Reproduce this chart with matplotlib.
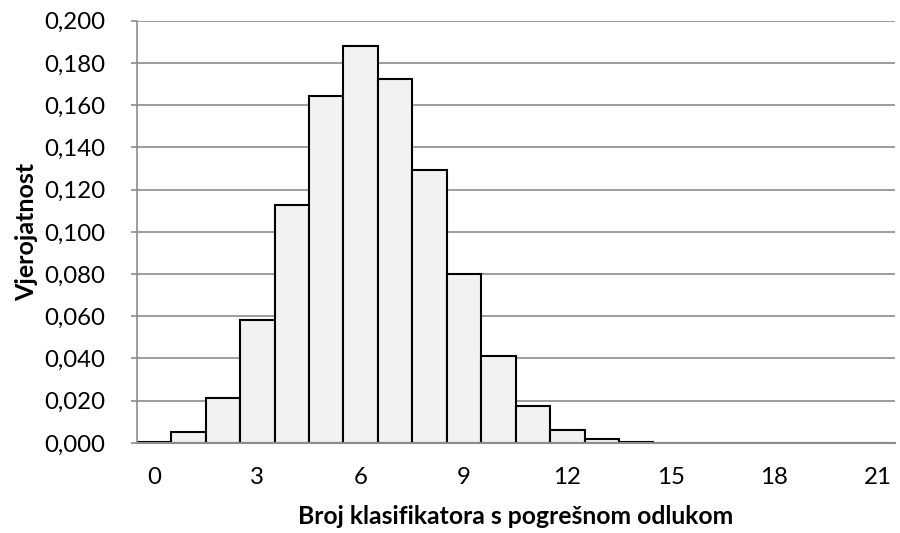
import numpy as np
import matplotlib
matplotlib.use("Agg")
import matplotlib.pyplot as plt
from matplotlib.ticker import FuncFormatter

# Broj klasifikatora s pogresnom odlukom (0..21) i vjerojatnosti
categories = list(range(22))
probabilities = [0.0006, 0.0050, 0.0213, 0.0582, 0.1129, 0.1644, 0.1880, 0.1726,
                 0.1293, 0.0802, 0.0411, 0.0176, 0.0063, 0.0018, 0.0004, 0.00008,
                 0.00001, 0.000002, 0.0000002, 0.0, 0.0, 0.0]
x_ticks = [0, 3, 6, 9, 12, 15, 18, 21]
y_ticks = [0.0, 0.02, 0.04, 0.06, 0.08, 0.10, 0.12, 0.14, 0.16, 0.18, 0.20]

plt.rcParams['font.family'] = ['Lato', 'DejaVu Sans']

fig = plt.figure(figsize=(9, 5.33), dpi=100)
ax = fig.add_axes([0.152, 0.169, 0.842, 0.792])

ax.bar(categories, probabilities, width=1.0, color='#f2f2f2',
       edgecolor='black', linewidth=1.5, zorder=2)

ax.set_xlim(-0.5, 21.5)
ax.set_ylim(0, 0.2)
ax.set_xticks(x_ticks)
ax.set_yticks(y_ticks)
ax.yaxis.set_major_formatter(FuncFormatter(lambda v, p: f"{v:.3f}".replace('.', ',')))

ax.grid(axis='y', color='#8c8c8c', linewidth=1.2, zorder=0)
ax.set_axisbelow(True)
for s in ['top', 'right']:
    ax.spines[s].set_visible(False)
ax.spines['left'].set_color('#8c8c8c')
ax.spines['left'].set_linewidth(1.2)
ax.spines['bottom'].set_color('#8c8c8c')
ax.spines['bottom'].set_linewidth(1.5)
ax.spines['bottom'].set_zorder(3)

ax.tick_params(axis='y', direction='out', length=4, color='#8c8c8c', width=1.2,
               labelsize=17.3, pad=18.5)
ax.tick_params(axis='x', length=0, labelsize=17.3, pad=17)

ax.set_ylabel('Vjerojatnost', fontsize=18, fontweight='bold')
ax.set_xlabel('Broj klasifikatora s pogrešnom odlukom', fontsize=17.8,
              fontweight='bold')
ax.yaxis.set_label_coords(-0.1306, 0.5)
ax.xaxis.set_label_coords(0.5, -0.148)

fig.savefig('out.png', dpi=100)
